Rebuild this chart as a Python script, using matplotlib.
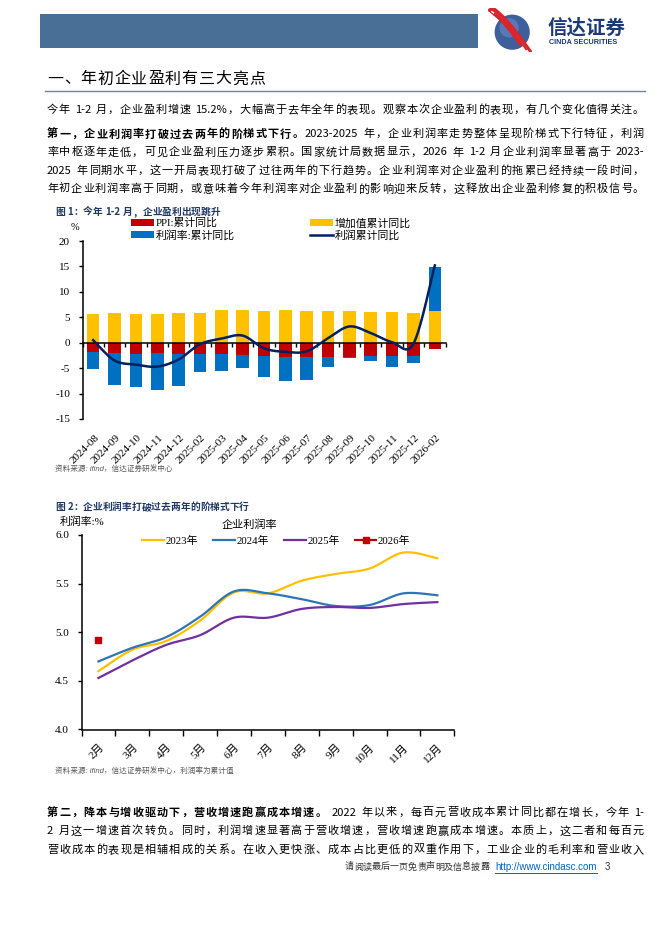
import numpy as np
import matplotlib
matplotlib.use('Agg')
import matplotlib.pyplot as plt
import matplotlib.transforms as mtransforms
from matplotlib.patches import Rectangle, Circle, Patch
from matplotlib.lines import Line2D

# ---------------- data ----------------
months1 = ['2024-08', '2024-09', '2024-10', '2024-11', '2024-12', '2025-02', '2025-03',
           '2025-04', '2025-05', '2025-06', '2025-07', '2025-08', '2025-09', '2025-10',
           '2025-11', '2025-12', '2026-02']
value_added = [5.7, 5.8, 5.7, 5.7, 5.8, 5.9, 6.5, 6.4, 6.3, 6.4, 6.3, 6.2, 6.2, 6.1, 6.0, 5.9, 6.3]
ppi = [-1.8, -2.0, -2.2, -2.1, -2.2, -2.2, -2.3, -2.5, -2.6, -2.8, -2.9, -2.9, -2.8, -2.7, -2.7, -2.6, -1.2]
margin_contrib = [-3.3, -6.3, -6.5, -7.2, -6.4, -3.6, -3.2, -2.4, -4.2, -4.8, -4.5, -1.8, -0.2, -0.8, -2.0, -1.4, 8.6]
profit_yoy = [0.5, -3.5, -4.3, -4.7, -3.3, -0.3, 0.8, 1.4, -1.1, -1.8, -1.7, 0.9, 3.2, 1.9, 0.1, -0.2, 15.2]
y1_ticks = [-15, -10, -5, 0, 5, 10, 15, 20]

months2 = ['2月', '3月', '4月', '5月', '6月', '7月', '8月', '9月', '10月', '11月', '12月']
rate_2023 = [4.60, 4.82, 4.91, 5.12, 5.41, 5.40, 5.53, 5.60, 5.655, 5.82, 5.76]
rate_2024 = [4.70, 4.84, 4.95, 5.16, 5.42, 5.40, 5.34, 5.27, 5.28, 5.40, 5.38]
rate_2025 = [4.53, 4.71, 4.87, 4.97, 5.15, 5.15, 5.24, 5.26, 5.25, 5.29, 5.31]
rate_2026 = [4.92]
y2_ticks = [4.0, 4.5, 5.0, 5.5, 6.0]

# ---------------- setup ----------------
W, H = 662, 936
fig = plt.figure(figsize=(W / 100, H / 100), dpi=100)
fig.patch.set_facecolor('white')
R = fig.canvas.get_renderer()

CJK = ['Noto Sans CJK SC', 'DejaVu Sans']
SERIF = ['Liberation Serif', 'Noto Sans CJK SC']
SANS = ['Liberation Sans', 'Noto Sans CJK SC']


def fx(px):
    return px / W


def fy(py):
    return 1 - py / H


def smooth(xs, ys, n=24):
    xs = np.asarray(xs, float)
    ys = np.asarray(ys, float)
    if len(xs) < 3:
        return xs, ys
    P = np.column_stack([xs, ys])
    P = np.vstack([P[0], P, P[-1]])
    t = np.linspace(0, 1, n, endpoint=False)[:, None]
    segs = []
    for i in range(1, len(P) - 2):
        p0, p1, p2, p3 = P[i - 1], P[i], P[i + 1], P[i + 2]
        seg = 0.5 * ((2 * p1) + (-p0 + p2) * t + (2 * p0 - 5 * p1 + 4 * p2 - p3) * t ** 2
                     + (-p0 + 3 * p1 - 3 * p2 + p3) * t ** 3)
        segs.append(seg)
    segs.append(P[-2][None, :])
    S = np.vstack(segs)
    return S[:, 0], S[:, 1]


def tokens_of(segments):
    toks = []
    for s, bold in segments:
        buf = ''
        for ch in s:
            if ord(ch) < 128 and ch != ' ':
                buf += ch
            else:
                if buf:
                    toks.append((buf, bold))
                    buf = ''
                toks.append((ch, bold))
        if buf:
            toks.append((buf, bold))
    return toks


def text_line(segments, x0, y, x1=None, size=8, color='black', family=CJK, style='normal'):
    toks = tokens_of(segments)
    arts, widths = [], []
    for t, b in toks:
        if t == ' ':
            arts.append(None)
            widths.append(size * 100 / 72 * 0.28)
            continue
        a = fig.text(fx(x0), fy(y), t, fontsize=size, fontweight='bold' if b else 'normal',
                     family=family, color=color, va='center', ha='left', fontstyle=style)
        arts.append(a)
        widths.append(a.get_window_extent(R).width)
    gap = 0.0
    if x1 is not None and len(toks) > 1:
        gap = (x1 - x0 - sum(widths)) / (len(toks) - 1)
    x = x0
    for a, w in zip(arts, widths):
        if a is not None:
            a.set_x(fx(x))
        x += w + gap
    return x - gap


# ---------------- header ----------------
fig.add_artist(Rectangle((fx(40), fy(48)), fx(478) - fx(40), (48 - 14) / H,
                         transform=fig.transFigure, facecolor='#4A6F96', edgecolor='none'))
axl = fig.add_axes([fx(488), fy(52), 44 / W, 44 / H])
axl.set_xlim(0, 1)
axl.set_ylim(0, 1)
axl.axis('off')
circ = Circle((0.55, 0.45), 0.40, facecolor='#3E5E9C', edgecolor='none')
axl.add_patch(circ)
axl.add_patch(Circle((0.48, 0.55), 0.22, facecolor='#6D8BC4', edgecolor='none', alpha=0.6))
tt = np.linspace(0, 1, 60)
for k, (c, lw) in enumerate([('#D7262C', 5.0), ('white', 1.2), ('#D7262C', 3.0), ('white', 1.0), ('#D7262C', 2.2)]):
    off = (k - 2) * 0.055
    xs = 0.02 + 0.88 * tt + off
    ys = 0.98 - 0.92 * tt + 0.10 * np.sin(np.pi * tt) - off
    axl.plot(xs, ys, color=c, lw=lw, solid_capstyle='butt')
fig.text(fx(548), fy(28), '信达证券', fontsize=14, fontweight='bold', family=CJK,
         color='#1B3A78', va='center', ha='left')
fig.text(fx(549), fy(43), 'CINDA SECURITIES', fontsize=5.2, fontweight='bold', family=SANS,
         color='#1B3A78', va='center', ha='left')

# ---------------- section title & paragraphs ----------------
RIGHT = 644
text_line([('一、年初企业盈利有三大亮点', False)], 47, 79, x1=265, size=11.5)
fig.add_artist(Line2D([fx(45), fx(645)], [fy(91), fy(91)], color='#71829A', lw=1.0))

PS = 8
text_line([('今年 1-2 月，企业盈利增速 15.2%，大幅高于去年全年的表现。观察本次企业盈利的表现，有几个变化值得关注。', False)],
          47, 110, x1=RIGHT, size=PS)
para2 = [
    [('第一，企业利润率打破过去两年的阶梯式下行。', True), ('2023-2025 年，企业利润率走势整体呈现阶梯式下行特征，利润', False)],
    [('率中枢逐年走低，可见企业盈利压力逐步累积。国家统计局数据显示，2026 年 1-2 月企业利润率显著高于 2023-', False)],
    [('2025 年同期水平，这一开局表现打破了过往两年的下行趋势。企业利润率对企业盈利的拖累已经持续一段时间，', False)],
    [('年初企业利润率高于同期，或意味着今年利润率对企业盈利的影响迎来反转，这释放出企业盈利修复的积极信号。', False)],
]
for i, seg in enumerate(para2):
    text_line(seg, 47, 134 + i * 18.4, x1=RIGHT, size=PS)

# ---------------- figure 1 ----------------
text_line([('图 1：今年 1-2 月，企业盈利出现跳升', True)], 55, 212, size=7, color='#1F3864')

ax1 = fig.add_axes([fx(82.5), fy(419), (445.5 - 82.5) / W, (419 - 241) / H])
x1 = np.arange(len(months1))
va = np.array(value_added)
pp = np.array(ppi)
mc = np.array(margin_contrib)
bw = 0.59
ax1.bar(x1, va, width=bw, color='#FFC000', zorder=2, label='增加值累计同比')
ax1.bar(x1, pp, width=bw, color='#C00000', zorder=2, label='PPI:累计同比')
ax1.bar(x1, mc, width=bw, bottom=np.where(mc < 0, pp, va), color='#0070C0', zorder=2,
        label='利润率:累计同比')
sx, sy = smooth(x1, profit_yoy)
ax1.plot(sx, sy, color='#002060', lw=1.8, zorder=4, label='利润累计同比')
ax1.set_xlim(-0.5, len(months1) - 0.5)
ax1.set_ylim(-15, 20)
ax1.set_yticks(y1_ticks)
ax1.set_yticklabels([str(v) for v in y1_ticks], family=SERIF, fontsize=8)
for s in ['top', 'right']:
    ax1.spines[s].set_visible(False)
ax1.spines['bottom'].set_position(('data', 0))
ax1.spines['bottom'].set_zorder(3)
ax1.spines['left'].set_linewidth(1.1)
ax1.spines['bottom'].set_linewidth(1.1)
ax1.set_xticks(np.arange(-0.5, len(months1), 1))
ax1.set_xticklabels([''] * len(np.arange(-0.5, len(months1), 1)))
ax1.tick_params(axis='x', direction='out', length=3, width=1)
ax1.tick_params(axis='y', direction='out', length=3, width=1, pad=6)
trans1 = mtransforms.blended_transform_factory(ax1.transData, ax1.transAxes)
for i, m in enumerate(months1):
    ax1.text(i + 0.05, -14 / 178, m, transform=trans1, rotation=45, ha='right', va='top',
             rotation_mode='anchor', family=SERIF, fontsize=8, clip_on=False)
fig.text(fx(75), fy(227), '%', family=SERIF, fontsize=7.5, va='center', ha='center')

h_ppi = Patch(facecolor='#C00000', label='PPI:累计同比')
h_mar = Patch(facecolor='#0070C0', label='利润率:累计同比')
h_va = Patch(facecolor='#FFC000', label='增加值累计同比')
h_pr = Line2D([], [], color='#002060', lw=1.8, label='利润累计同比')
lg1 = fig.legend(handles=[h_ppi, h_mar], loc='upper left', bbox_to_anchor=(fx(131), fy(218)),
                 frameon=False, prop={'family': SERIF, 'size': 7.8}, handlelength=2.1,
                 handleheight=0.6, handletextpad=0.15, labelspacing=0.15, borderaxespad=0, borderpad=0)
lg2 = fig.legend(handles=[h_va, h_pr], loc='upper left', bbox_to_anchor=(fx(310), fy(218)),
                 frameon=False, prop={'family': SERIF, 'size': 7.8}, handlelength=2.1,
                 handleheight=0.6, handletextpad=0.15, labelspacing=0.15, borderaxespad=0, borderpad=0)

fig.text(fx(55), fy(469), '资料来源: ifind，信达证券研发中心', family=SANS, fontsize=5.5,
         fontstyle='italic', color='#595959', va='center', ha='left')

# ---------------- figure 2 ----------------
text_line([('图 2：企业利润率打破过去两年的阶梯式下行', True)], 55, 507, size=7, color='#1F3864')

ax2 = fig.add_axes([fx(81.5), fy(729.5), (454.3 - 81.5) / W, (729.5 - 535) / H])
x2 = np.arange(len(months2))
c23, c24, c25, c26 = '#FFC000', '#2E75B6', '#7030A0', '#C00000'
for ser, col, lab in [(rate_2023, c23, '2023年'), (rate_2024, c24, '2024年'), (rate_2025, c25, '2025年')]:
    sx2, sy2 = smooth(x2[:len(ser)], ser)
    ax2.plot(sx2, sy2, color=col, lw=1.6, label=lab)
ax2.plot(x2[:len(rate_2026)], rate_2026, color=c26, lw=1.6, marker='s', ms=5, ls='-', label='2026年')
ax2.set_xlim(-0.5, len(months2) - 0.5)
ax2.set_ylim(4.0, 6.0)
ax2.set_yticks(y2_ticks)
ax2.set_yticklabels([f'{v:.1f}' for v in y2_ticks], family=SERIF, fontsize=8)
for s in ['top', 'right']:
    ax2.spines[s].set_visible(False)
ax2.spines['left'].set_linewidth(1.1)
ax2.spines['bottom'].set_linewidth(1.1)
ax2.set_xticks(x2)
ax2.set_xticklabels(months2, rotation=45, ha='right', rotation_mode='anchor', family=SERIF, fontsize=8)
ax2.set_xticks(np.arange(-0.5, len(months2), 1), minor=True)
ax2.tick_params(axis='x', which='major', length=0, pad=9)
ax2.tick_params(axis='x', which='minor', direction='out', length=4, width=1)
ax2.tick_params(axis='y', direction='out', length=3, width=1, pad=6)

fig.text(fx(82), fy(522), '利润率:%', family=SERIF, fontsize=7.8, va='center', ha='center')
fig.text(fx(249), fy(525), '企业利润率', family=CJK, fontsize=8, va='center', ha='center')
ax2.legend(loc='center left', bbox_to_anchor=(fx(142) - fx(81.5), 0), frameon=False, ncol=4,
           prop={'family': SERIF, 'size': 7.8}, handlelength=2.0, handletextpad=0.15,
           columnspacing=1.4, borderaxespad=0, borderpad=0)
leg2 = ax2.get_legend()
leg2.set_bbox_to_anchor((fx(142), fy(541)), transform=fig.transFigure)

fig.text(fx(55), fy(771), '资料来源: ifind，信达证券研发中心，利润率为累计值', family=SANS, fontsize=5.5,
         fontstyle='italic', color='#595959', va='center', ha='left')

# ---------------- paragraph 3 ----------------
para3 = [
    [('第二，降本与增收驱动下，营收增速跑赢成本增速。', True), (' 2022 年以来，每百元营收成本累计同比都在增长，今年 1-', False)],
    [('2 月这一增速首次转负。同时，利润增速显著高于营收增速，营收增速跑赢成本增速。本质上，这二者和每百元', False)],
    [('营收成本的表现是相辅相成的关系。在收入更快涨、成本占比更低的双重作用下，工业企业的毛利率和营业收入', False)],
]
for i, seg in enumerate(para3):
    text_line(seg, 47, 812.5 + i * 18.7, x1=RIGHT, size=PS)

# ---------------- footer ----------------
xe = text_line([('请阅读最后一页免责声明及信息披露', False)], 345, 867, size=6.5, color='#333333')
url = fig.text(fx(xe + 6), fy(867), 'http://www.cindasc.com', family=SANS, fontsize=7,
               color='#0563C1', va='center', ha='left')
uw = url.get_window_extent(R).width
fig.add_artist(Line2D([fx(xe + 6), fx(xe + 6 + uw)], [fy(872.5), fy(872.5)], color='#0563C1', lw=0.7))
fig.text(fx(xe + 6 + uw + 8), fy(867), '3', family=SANS, fontsize=7, color='#333333', va='center', ha='left')

fig.savefig('out.png', dpi=100)
